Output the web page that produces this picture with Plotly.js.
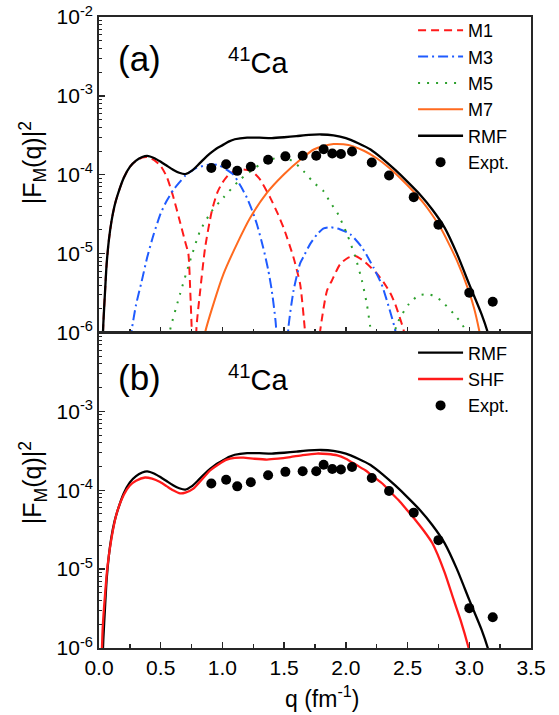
<!DOCTYPE html>
<html>
<head>
<meta charset="utf-8">
<script src="https://cdn.plot.ly/plotly-3.0.1.min.js"></script>
<style>html,body{margin:0;padding:0;background:#fff;}#chart{width:559px;height:715px;}</style>
</head>
<body>
<div id="chart"></div>
<script>
// ---- data ----
const qRMF = [0.02,0.035,0.05,0.062,0.08,0.1,0.125,0.15,0.2,0.25,0.3,0.35,0.39,0.45,0.5,0.55,0.6,0.65,0.7,0.75,0.8,0.85,0.9,0.95,1.0,1.05,1.1,1.2,1.3,1.4,1.5,1.6,1.7,1.8,1.9,2.0,2.1,2.2,2.3,2.4,2.5,2.6,2.7,2.8,2.9,3.0,3.1,3.15,3.2];
const RMF = [3.2e-7,1.29e-6,3.55e-6,7.41e-6,1.48e-5,2.51e-5,3.98e-5,5.5e-5,9.12e-5,1.26e-4,1.51e-4,1.68e-4,1.74e-4,1.62e-4,1.46e-4,1.30e-4,1.16e-4,1.06e-4,1.02e-4,1.12e-4,1.32e-4,1.58e-4,1.86e-4,2.14e-4,2.37e-4,2.63e-4,2.82e-4,2.96e-4,2.95e-4,2.92e-4,2.99e-4,3.09e-4,3.2e-4,3.24e-4,3.16e-4,2.92e-4,2.51e-4,2.09e-4,1.58e-4,1.15e-4,8.13e-5,5.62e-5,3.63e-5,2.14e-5,1.0e-5,4.07e-6,1.70e-6,1.0e-6,5.0e-7];

const qSHF = [0.015,0.03,0.05,0.07,0.1,0.143,0.2,0.25,0.3,0.373,0.43,0.495,0.55,0.6,0.657,0.7,0.765,0.83,0.9,0.97,1.035,1.1,1.17,1.26,1.36,1.45,1.55,1.65,1.766,1.85,1.93,2.0,2.09,2.16,2.225,2.3,2.36,2.43,2.495,2.56,2.63,2.7,2.8,2.874,2.93,2.995,3.05];
const SHF = [3.2e-7,1.78e-6,5.01e-6,1.12e-5,2.4e-5,5.07e-5,8.71e-5,1.15e-4,1.32e-4,1.45e-4,1.40e-4,1.27e-4,1.12e-4,1.0e-4,9.12e-5,9.33e-5,1.05e-4,1.35e-4,1.78e-4,2.14e-4,2.45e-4,2.57e-4,2.59e-4,2.51e-4,2.45e-4,2.51e-4,2.63e-4,2.79e-4,2.92e-4,2.88e-4,2.77e-4,2.51e-4,2.07e-4,1.78e-4,1.48e-4,1.2e-4,9.55e-5,7.41e-5,5.62e-5,4.27e-5,3.09e-5,2.14e-5,9.12e-6,4.07e-6,2.24e-6,1.0e-6,4.5e-7];

const qM1 = [0.02,0.035,0.05,0.062,0.08,0.1,0.125,0.15,0.2,0.25,0.3,0.35,0.39,0.45,0.5,0.55,0.6,0.65,0.7,0.724,0.74,0.752,0.77,0.79,0.82,0.86,0.914,0.96,1.0,1.05,1.1,1.17,1.24,1.3,1.387,1.45,1.5,1.576,1.63,1.67,1.73,1.79,1.847,1.887,1.955,2.02,2.076,2.15,2.25,2.306,2.36,2.4,2.468,2.52];
const M1 = [3.2e-7,1.29e-6,3.55e-6,7.41e-6,1.48e-5,2.51e-5,3.98e-5,5.5e-5,9.12e-5,1.26e-4,1.50e-4,1.65e-4,1.68e-4,1.52e-4,1.29e-4,9.33e-5,5.37e-5,2.75e-5,1.38e-5,1.0e-5,3.16e-6,1.0e-6,1e-7,1.17e-6,3.39e-6,1.2e-5,3.47e-5,6.03e-5,7.94e-5,1.0e-4,1.12e-4,1.17e-4,1.1e-4,8.91e-5,5.13e-5,3.16e-5,2.04e-5,8.91e-6,4.07e-6,1.0e-6,1e-7,1.0e-6,3.39e-6,4.57e-6,7.41e-6,8.91e-6,9.33e-6,7.94e-6,5.62e-6,4.32e-6,3.16e-6,2.29e-6,1.07e-6,4e-7];

const qM3 = [0.24,0.265,0.3,0.346,0.39,0.44,0.5,0.549,0.603,0.65,0.7,0.79,0.9,0.97,1.03,1.09,1.15,1.198,1.24,1.28,1.33,1.37,1.4,1.43,1.49,1.535,1.576,1.63,1.66,1.71,1.77,1.82,1.873,1.95,2.036,2.13,2.225,2.29,2.36,2.4,2.44];
const M3 = [4.5e-7,1.07e-6,2.24e-6,4.47e-6,8.91e-6,1.7e-5,3.24e-5,4.68e-5,6.46e-5,7.94e-5,9.77e-5,1.22e-4,1.35e-4,1.32e-4,1.17e-4,1.0e-4,7.08e-5,5.13e-5,3.55e-5,2.34e-5,1.2e-5,6.31e-6,3.39e-6,1.41e-6,1e-7,1.17e-6,3.39e-6,7.59e-6,9.33e-6,1.32e-5,1.78e-5,2.09e-5,2.16e-5,2.04e-5,1.76e-5,1.2e-5,6.61e-6,4.07e-6,1.82e-6,1.07e-6,4e-7];

const qM5 = [0.55,0.576,0.657,0.738,0.82,0.914,1.008,1.144,1.306,1.427,1.5,1.58,1.657,1.74,1.82,1.873,1.93,2.01,2.076,2.13,2.17,2.198,2.3,2.41,2.51,2.59,2.684,2.766,2.9,2.955,3.0];
const M5 = [5e-7,1.07e-6,3.09e-6,8.13e-6,1.95e-5,3.47e-5,5.13e-5,8.71e-5,1.35e-4,1.62e-4,1.66e-4,1.45e-4,1.11e-4,7.94e-5,6.17e-5,4.47e-5,3.31e-5,1.76e-5,9.12e-6,4.57e-6,2.29e-6,1.17e-6,1e-7,1.23e-6,2.29e-6,2.95e-6,3.02e-6,2.57e-6,1.55e-6,1.17e-6,7.9e-7];

const qM7 = [0.84,0.86,0.927,1.008,1.117,1.225,1.36,1.495,1.63,1.74,1.82,1.9,1.98,2.06,2.15,2.25,2.35,2.44,2.54,2.63,2.7,2.766,2.83,2.9,2.995,3.04,3.08,3.12];
const M7 = [5e-7,1.0e-6,2.29e-6,5.5e-6,1.32e-5,2.85e-5,5.89e-5,1.0e-4,1.55e-4,2.09e-4,2.32e-4,2.45e-4,2.43e-4,2.29e-4,2.0e-4,1.62e-4,1.23e-4,9.12e-5,6.31e-5,4.37e-5,3.09e-5,2.14e-5,1.38e-5,8.13e-6,3.39e-6,2.0e-6,1.07e-6,5e-7];

const qExp = [0.91,1.03,1.12,1.23,1.37,1.51,1.65,1.76,1.82,1.89,1.96,2.05,2.21,2.35,2.55,2.75,3.00,3.19];
const Expt = [1.22e-4,1.36e-4,1.12e-4,1.26e-4,1.55e-4,1.71e-4,1.74e-4,1.74e-4,2.11e-4,1.86e-4,1.83e-4,1.97e-4,1.43e-4,9.8e-5,5.2e-5,2.33e-5,3.2e-6,2.45e-6];

const xTickVals = [0,0.5,1,1.5,2,2.5,3,3.5];
const xTickText = ['0.0','0.5','1.0','1.5','2.0','2.5','3.0','3.5'];
const yTickValsA = [1e-6,1e-5,1e-4,1e-3,1e-2];
const yTickTextA = ['10<sup>-6</sup>','10<sup>-5</sup>','10<sup>-4</sup>','10<sup>-3</sup>','10<sup>-2</sup>'];
const yTickValsB = [1e-6,1e-5,1e-4,1e-3];
const yTickTextB = ['10<sup>-6</sup>','10<sup>-5</sup>','10<sup>-4</sup>','10<sup>-3</sup>'];

// ---- styling ----
const FONT = 'Arial, "Liberation Sans", Helvetica, sans-serif';
const AX = '#262626';
function line(q, v, name, color, dash, xa, ya, leg, width) {
  return {x: q, y: v, name: name, type: 'scatter', mode: 'lines',
    line: {color: color, width: width || 2, dash: dash || 'solid', shape: 'spline', smoothing: 0.6},
    xaxis: xa, yaxis: ya, legend: leg, legendgroup: leg + name, hoverinfo: 'skip'};
}
function pts(xa, ya, leg) {
  return {x: qExp, y: Expt, name: 'Expt.', type: 'scatter', mode: 'markers',
    marker: {color: '#000', size: 10, symbol: 'circle'},
    xaxis: xa, yaxis: ya, legend: leg, legendgroup: leg + 'Expt', hoverinfo: 'skip'};
}

const traces = [
  line(qM1, M1, 'M1', '#ff1a1a', '8px,5px', 'x', 'y', 'legend'),
  line(qM3, M3, 'M3', '#1f5bff', '10px,4px,2px,4px', 'x', 'y', 'legend'),
  line(qM5, M5, 'M5', '#2ca02c', '2px,7px', 'x', 'y', 'legend'),
  line(qM7, M7, 'M7', '#ff6a1f', 'solid', 'x', 'y', 'legend'),
  line(qRMF, RMF, 'RMF', '#000000', 'solid', 'x', 'y', 'legend', 2.3),
  pts('x', 'y', 'legend'),
  line(qRMF, RMF, 'RMF', '#000000', 'solid', 'x2', 'y2', 'legend2', 2.3),
  line(qSHF, SHF, 'SHF', '#ff1a1a', 'solid', 'x2', 'y2', 'legend2', 2.3),
  pts('x2', 'y2', 'legend2')
];

function xAxis(anchor, labels) {
  return {anchor: anchor, domain: [0, 1], range: [0, 3.5], tickmode: 'array',
    tickvals: xTickVals, ticktext: xTickText, showticklabels: labels,
    ticks: 'inside', ticklen: 6, tickwidth: 1.3, tickcolor: AX,
    minor: {ticks: 'inside', ticklen: 4, tickwidth: 1.3, tickcolor: AX, dtick: 0.25, tick0: 0, showgrid: false},
    showline: true, mirror: true, linecolor: AX, linewidth: 1.8,
    showgrid: false, zeroline: false, tickfont: {family: FONT, size: 21, color: '#000'}};
}
function yAxis(anchor, domain, tv, tt) {
  return {anchor: anchor, domain: domain, type: 'log', range: [-6, -2], tickmode: 'array',
    tickvals: tv, ticktext: tt, ticks: 'inside', ticklen: 6, tickwidth: 1.3, tickcolor: AX,
    minor: {ticks: 'inside', ticklen: 3, tickwidth: 1, tickcolor: AX, dtick: 'D1', showgrid: false},
    showline: true, mirror: true, linecolor: AX, linewidth: 1.8,
    showgrid: false, zeroline: false, tickfont: {family: FONT, size: 21, color: '#000'}};
}

const layout = {
  width: 559, height: 715,
  margin: {l: 99, r: 28, t: 15, b: 67, pad: 0},
  paper_bgcolor: '#fff', plot_bgcolor: '#fff',
  font: {family: FONT, color: '#000'},
  showlegend: true,
  xaxis: xAxis('y', false),
  xaxis2: xAxis('y2', true),
  yaxis: yAxis('x', [0.5, 1], yTickValsA, yTickTextA),
  yaxis2: yAxis('x2', [0, 0.5], yTickValsB, yTickTextB),
  legend: {x: 0.727, y: 1.008, xanchor: 'left', yanchor: 'top', bgcolor: 'rgba(0,0,0,0)',
    font: {family: FONT, size: 18, color: '#000'}, itemwidth: 45, tracegroupgap: 0},
  legend2: {x: 0.727, y: 0.497, xanchor: 'left', yanchor: 'top', bgcolor: 'rgba(0,0,0,0)',
    font: {family: FONT, size: 18, color: '#000'}, itemwidth: 45, tracegroupgap: 0},
  annotations: [
    {text: '(a)', xref: 'paper', yref: 'paper', x: 0.04, y: 0.934, xanchor: 'left', yanchor: 'middle', showarrow: false, font: {size: 35, family: FONT}},
    {text: '<sup>41</sup>Ca', xref: 'paper', yref: 'paper', x: 0.295, y: 0.93, xanchor: 'left', yanchor: 'middle', showarrow: false, font: {size: 29, family: FONT}},
    {text: '(b)', xref: 'paper', yref: 'paper', x: 0.04, y: 0.428, xanchor: 'left', yanchor: 'middle', showarrow: false, font: {size: 35, family: FONT}},
    {text: '<sup>41</sup>Ca', xref: 'paper', yref: 'paper', x: 0.295, y: 0.428, xanchor: 'left', yanchor: 'middle', showarrow: false, font: {size: 29, family: FONT}},
    {text: '|F<sub>M</sub>(q)|<sup>2</sup>', xref: 'paper', yref: 'paper', x: -0.154, y: 0.769, xanchor: 'center', yanchor: 'middle', textangle: -90, showarrow: false, font: {size: 25, family: FONT}},
    {text: '|F<sub>M</sub>(q)|<sup>2</sup>', xref: 'paper', yref: 'paper', x: -0.154, y: 0.262, xanchor: 'center', yanchor: 'middle', textangle: -90, showarrow: false, font: {size: 25, family: FONT}},
    {text: 'q (fm<sup>-1</sup>)', xref: 'paper', yref: 'paper', x: 0.5155, y: -0.077, xanchor: 'center', yanchor: 'middle', showarrow: false, font: {size: 23, family: FONT}}
  ]
};

Plotly.newPlot('chart', traces, layout, {staticPlot: true, displayModeBar: false});
</script>
</body>
</html>
